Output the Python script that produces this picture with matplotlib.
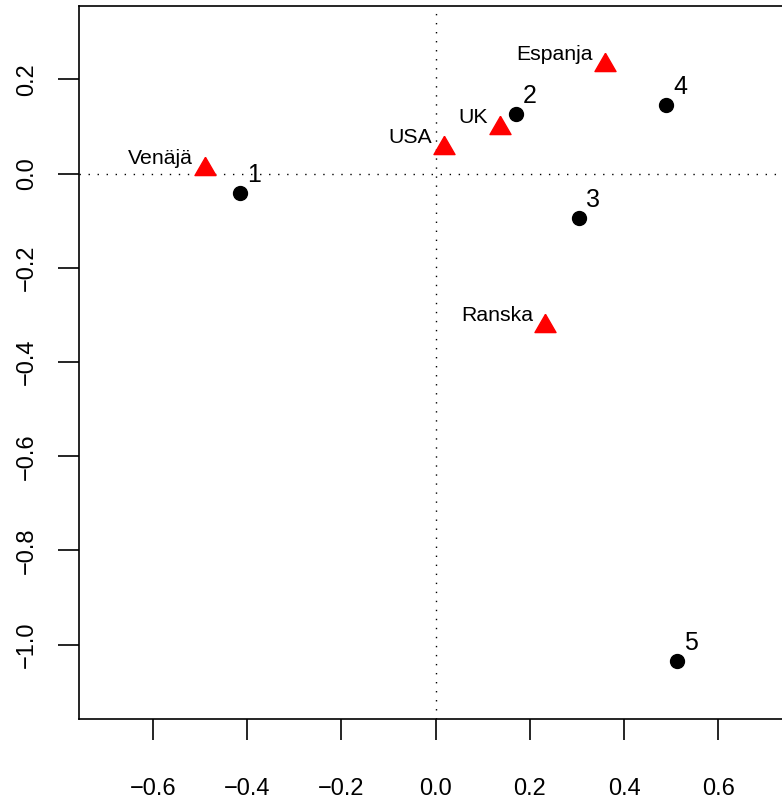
import numpy as np
import matplotlib
matplotlib.use("Agg")
import matplotlib.pyplot as plt

plt.rcParams['font.family'] = ['Liberation Sans', 'DejaVu Sans']

# rivit (numeroidut pisteet)
row_labels = ['1', '2', '3', '4', '5']
row_x = [-0.416, 0.170, 0.304, 0.489, 0.512]
row_y = [-0.041, 0.126, -0.095, 0.146, -1.035]

# sarakkeet (maat)
col_labels = ['Venäjä', 'USA', 'UK', 'Espanja', 'Ranska']
col_x = [-0.489, 0.018, 0.137, 0.359, 0.232]
col_y = [0.010, 0.055, 0.096, 0.231, -0.323]

x_ticks = [-0.6, -0.4, -0.2, 0.0, 0.2, 0.4, 0.6]
y_ticks = [-1.0, -0.8, -0.6, -0.4, -0.2, 0.0, 0.2]

# tasasivuinen kolmio, keskipiste origossa (kuten R:n pch=17)
tri = [(0, 1.155), (-1, -0.577), (1, -0.577), (0, 1.155)]

fig = plt.figure(figsize=(7.82, 8.0), dpi=100)
ax = fig.add_axes([79 / 782, 81 / 800, 724 / 782, 713 / 800])

ax.axhline(0, color='black', lw=1.0, linestyle=(0, (1, 5.5)), zorder=1)
ax.axvline(0, color='black', lw=1.0, linestyle=(0, (1, 5.5)), zorder=1)

ax.plot(row_x, row_y, 'o', color='black', markersize=10, linestyle='none', zorder=3)
ax.plot(col_x, col_y, marker=tri, color='red', markersize=17.5, linestyle='none', zorder=3)

for lab, x, y in zip(row_labels, row_x, row_y):
    ax.annotate(lab, (x, y), xytext=(14.5, 18), textcoords='offset pixels',
                ha='center', va='center', fontsize=18)

for lab, x, y in zip(col_labels, col_x, col_y):
    ax.annotate(lab, (x, y), xytext=(-12, 10.5), textcoords='offset pixels',
                ha='right', va='center', fontsize=15.3)

ax.set_xlim(-0.757, 0.780)
ax.set_ylim(-1.158, 0.356)

ax.set_xticks(x_ticks)
ax.set_xticklabels([f"{t:.1f}".replace('-', '\u2212') for t in x_ticks])
ax.set_yticks(y_ticks)
ax.set_yticklabels([f"{t:.1f}".replace('-', '\u2212') for t in y_ticks],
                   rotation=90, va='center')

for s in ax.spines.values():
    s.set_linewidth(1.2)
ax.tick_params(axis='both', direction='out', length=15, width=1.2, labelsize=17)
ax.tick_params(axis='x', pad=27.5)
ax.tick_params(axis='y', pad=14.5)

fig.savefig('out.png', dpi=100)
